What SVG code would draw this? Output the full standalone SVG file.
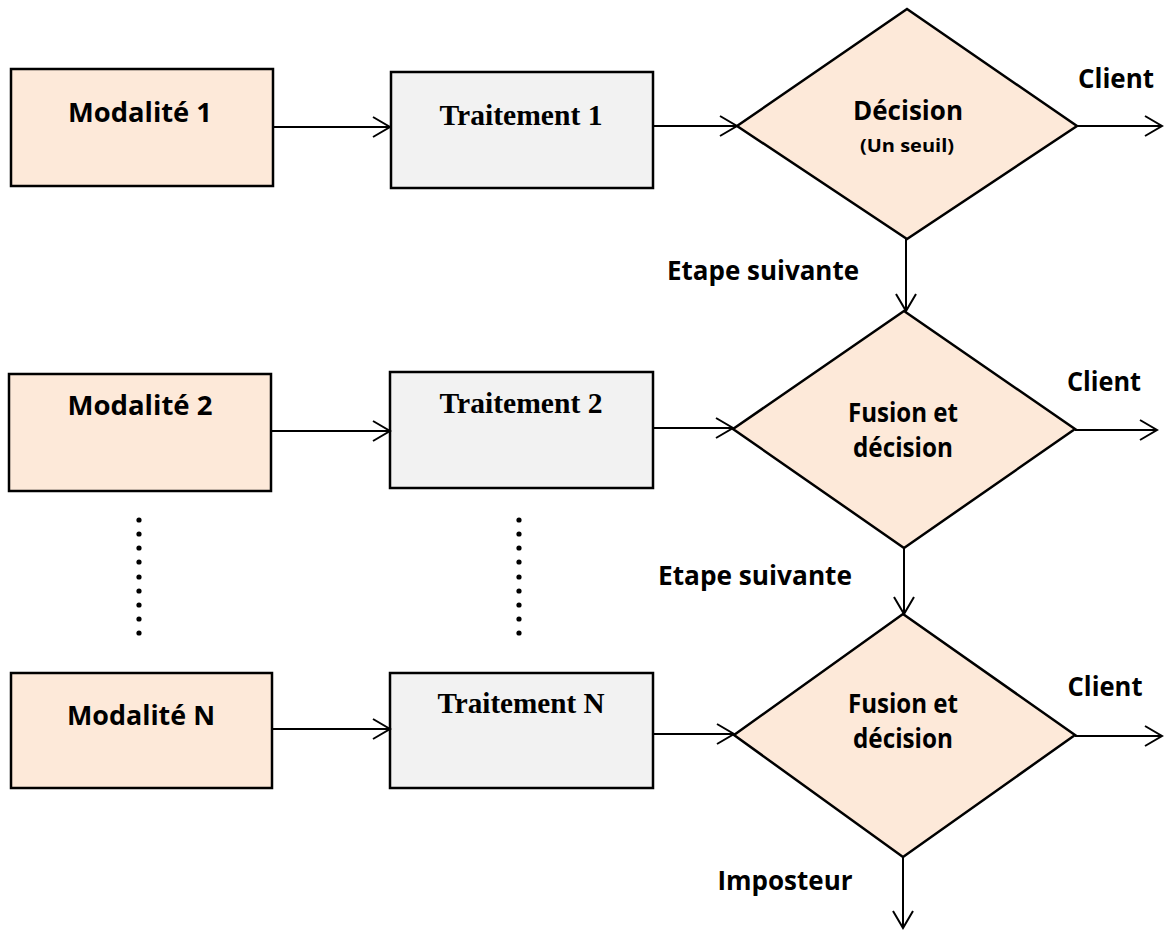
<svg xmlns="http://www.w3.org/2000/svg" width="1164" height="930" viewBox="0 0 1164 930">
  <defs>
    <marker id="open-arrow" markerUnits="userSpaceOnUse" markerWidth="24" markerHeight="24" viewBox="-20 -12 22 24" refX="0" refY="0" orient="auto">
      <path d="M-17,-10 L0,0 L-17,10" fill="none" stroke="#000" stroke-width="2"/>
    </marker>
  </defs>
  <style>
    .mod { fill: #FDE9D9; stroke: #000; stroke-width: 2.5; }
    .trt { fill: #F2F2F2; stroke: #000; stroke-width: 2.5; }
    .dec { fill: #FDE9D9; stroke: #000; stroke-width: 2.5; stroke-linejoin: miter; }
    .sans { font-family: "Open Sans", Lato, "Liberation Sans", sans-serif; font-weight: bold; fill: #000; text-anchor: middle; }
    .serif { font-family: "Liberation Serif", "Times New Roman", serif; font-weight: bold; fill: #000; text-anchor: middle; font-size: 30px; }
    .big { font-size: 26px; }
    .small { font-size: 18px; }
    .link { fill: none; stroke: #000; stroke-width: 2; marker-end: url(#open-arrow); }
    .dot { fill: #000; }
  </style>

  <!-- input modalities -->
  <g id="modalite-1">
    <rect class="mod" x="11" y="69" width="262" height="117"/>
    <text class="sans big" x="140" y="122" textLength="144" lengthAdjust="spacingAndGlyphs">Modalité 1</text>
  </g>
  <g id="modalite-2">
    <rect class="mod" x="9" y="374" width="262" height="117"/>
    <text class="sans big" x="140" y="415" textLength="145" lengthAdjust="spacingAndGlyphs">Modalité 2</text>
  </g>
  <g id="modalite-n">
    <rect class="mod" x="11" y="673" width="261" height="115"/>
    <text class="sans big" x="141" y="725" textLength="148" lengthAdjust="spacingAndGlyphs">Modalité N</text>
  </g>

  <!-- processing blocks -->
  <g id="traitement-1">
    <rect class="trt" x="391" y="72" width="262" height="116"/>
    <text class="serif" x="521" y="125" textLength="163" lengthAdjust="spacingAndGlyphs">Traitement 1</text>
  </g>
  <g id="traitement-2">
    <rect class="trt" x="390" y="372" width="263" height="116"/>
    <text class="serif" x="521" y="413" textLength="163" lengthAdjust="spacingAndGlyphs">Traitement 2</text>
  </g>
  <g id="traitement-n">
    <rect class="trt" x="390" y="673" width="263" height="115"/>
    <text class="serif" x="521" y="713" textLength="167" lengthAdjust="spacingAndGlyphs">Traitement N</text>
  </g>

  <!-- vertical ellipsis between stage 2 and stage N -->
  <g id="ellipsis-modalites">
    <circle class="dot" cx="139" cy="520" r="2.6"/>
    <circle class="dot" cx="139" cy="534" r="2.6"/>
    <circle class="dot" cx="139" cy="548" r="2.6"/>
    <circle class="dot" cx="139" cy="562" r="2.6"/>
    <circle class="dot" cx="139" cy="577" r="2.6"/>
    <circle class="dot" cx="139" cy="591" r="2.6"/>
    <circle class="dot" cx="139" cy="605" r="2.6"/>
    <circle class="dot" cx="139" cy="619" r="2.6"/>
    <circle class="dot" cx="139" cy="633" r="2.6"/>
  </g>
  <g id="ellipsis-traitements">
    <circle class="dot" cx="519" cy="520" r="2.6"/>
    <circle class="dot" cx="519" cy="534" r="2.6"/>
    <circle class="dot" cx="519" cy="548" r="2.6"/>
    <circle class="dot" cx="519" cy="562" r="2.6"/>
    <circle class="dot" cx="519" cy="577" r="2.6"/>
    <circle class="dot" cx="519" cy="591" r="2.6"/>
    <circle class="dot" cx="519" cy="605" r="2.6"/>
    <circle class="dot" cx="519" cy="619" r="2.6"/>
    <circle class="dot" cx="519" cy="633" r="2.6"/>
  </g>

  <!-- decision diamonds -->
  <g id="decision-1">
    <polygon class="dec" points="907,9 1077,126 907,239 737,126"/>
    <text class="sans big" x="908" y="120" textLength="110" lengthAdjust="spacingAndGlyphs">Décision</text>
    <text class="sans small" x="907" y="152" textLength="94" lengthAdjust="spacingAndGlyphs">(Un seuil)</text>
  </g>
  <g id="fusion-2">
    <polygon class="dec" points="904,311 1075,429 904,548 733,429"/>
    <text class="sans big" x="903" y="422" textLength="110" lengthAdjust="spacingAndGlyphs">Fusion et</text>
    <text class="sans big" x="903" y="457" textLength="100" lengthAdjust="spacingAndGlyphs">décision</text>
  </g>
  <g id="fusion-n">
    <polygon class="dec" points="903,614 1075,735 903,857 734,735"/>
    <text class="sans big" x="903" y="713" textLength="110" lengthAdjust="spacingAndGlyphs">Fusion et</text>
    <text class="sans big" x="903" y="748" textLength="100" lengthAdjust="spacingAndGlyphs">décision</text>
  </g>

  <!-- connectors -->
  <g id="connectors">
    <line class="link" x1="273" y1="127" x2="390" y2="127"/>
    <line class="link" x1="653" y1="126" x2="737" y2="126"/>
    <line class="link" x1="1077" y1="126" x2="1162" y2="126"/>
    <line class="link" x1="906" y1="239" x2="906" y2="311"/>

    <line class="link" x1="271" y1="431" x2="390" y2="431"/>
    <line class="link" x1="653" y1="428" x2="733" y2="428"/>
    <line class="link" x1="1075" y1="430" x2="1157" y2="430"/>
    <line class="link" x1="904" y1="548" x2="904" y2="614"/>

    <line class="link" x1="272" y1="729" x2="390" y2="729"/>
    <line class="link" x1="653" y1="734" x2="734" y2="734"/>
    <line class="link" x1="1075" y1="736" x2="1162" y2="736"/>
    <line class="link" x1="903" y1="857" x2="903" y2="928"/>
  </g>

  <!-- connector labels -->
  <g id="labels">
    <text class="sans big" x="1116" y="88" textLength="76" lengthAdjust="spacingAndGlyphs">Client</text>
    <text class="sans big" x="1104" y="391" textLength="74" lengthAdjust="spacingAndGlyphs">Client</text>
    <text class="sans big" x="1105" y="696" textLength="75" lengthAdjust="spacingAndGlyphs">Client</text>
    <text class="sans big" x="763" y="280" textLength="192" lengthAdjust="spacingAndGlyphs">Etape suivante</text>
    <text class="sans big" x="755" y="585" textLength="194" lengthAdjust="spacingAndGlyphs">Etape suivante</text>
    <text class="sans big" x="785" y="890" textLength="135" lengthAdjust="spacingAndGlyphs">Imposteur</text>
  </g>
</svg>
